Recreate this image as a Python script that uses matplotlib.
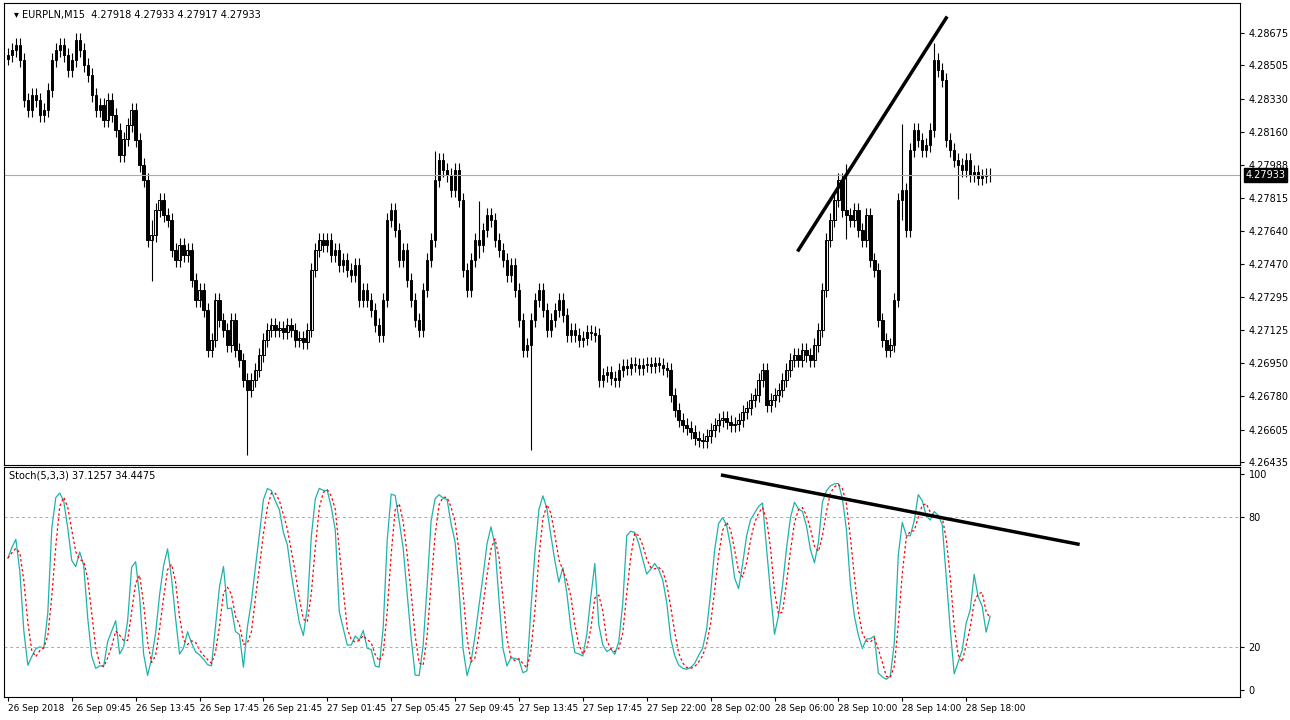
import matplotlib.pyplot as plt
import numpy as np

# closing prices for each M15 bar
closes = [
    4.28560, 4.28586, 4.28612, 4.28534, 4.28325, 4.28273, 4.28351, 4.28325, 4.28247, 4.28273,
    4.28377, 4.28534, 4.28586, 4.28612, 4.28560, 4.28482, 4.28534, 4.28638, 4.28586, 4.28508,
    4.28456, 4.28351, 4.28273, 4.28299, 4.28221, 4.28325, 4.28247, 4.28169, 4.28038, 4.28121,
    4.28195, 4.28273, 4.28116, 4.27986, 4.27908, 4.27595, 4.27620, 4.27751, 4.27803, 4.27725,
    4.27699, 4.27542, 4.27490, 4.27568, 4.27516, 4.27542, 4.27386, 4.27281, 4.27333, 4.27229,
    4.27020, 4.27073, 4.27281, 4.27177, 4.27125, 4.27047, 4.27177, 4.27020, 4.26968, 4.26863,
    4.26811, 4.26863, 4.26915, 4.26994, 4.27073, 4.27125, 4.27151, 4.27125, 4.27135, 4.27114,
    4.27151, 4.27125, 4.27073, 4.27083, 4.27062, 4.27125, 4.27438, 4.27542, 4.27595, 4.27568,
    4.27595, 4.27516, 4.27542, 4.27464, 4.27490, 4.27438, 4.27412, 4.27464, 4.27281, 4.27333,
    4.27281, 4.27229, 4.27151, 4.27099, 4.27281, 4.27699, 4.27751, 4.27647, 4.27490, 4.27542,
    4.27386, 4.27281, 4.27177, 4.27125, 4.27333, 4.27490, 4.27595, 4.27908, 4.28012, 4.27960,
    4.27934, 4.27856, 4.27960, 4.27803, 4.27438, 4.27333, 4.27490, 4.27595, 4.27568, 4.27647,
    4.27725, 4.27699, 4.27595, 4.27542, 4.27490, 4.27412, 4.27464, 4.27333, 4.27177, 4.27020,
    4.27047, 4.27177, 4.27281, 4.27333, 4.27229, 4.27125, 4.27177, 4.27229, 4.27281, 4.27203,
    4.27099, 4.27125, 4.27099, 4.27073, 4.27083, 4.27114, 4.27109, 4.27099, 4.26863, 4.26889,
    4.26904, 4.26873, 4.26863, 4.26915, 4.26936, 4.26925, 4.26946, 4.26941, 4.26925, 4.26941,
    4.26946, 4.26936, 4.26951, 4.26941, 4.26925, 4.26915, 4.26785, 4.26707, 4.26654, 4.26628,
    4.26613, 4.26592, 4.26561, 4.26550, 4.26545, 4.26571, 4.26602, 4.26628, 4.26654, 4.26665,
    4.26644, 4.26628, 4.26634, 4.26654, 4.26696, 4.26717, 4.26759, 4.26785, 4.26863, 4.26915,
    4.26733, 4.26759, 4.26785, 4.26811, 4.26863, 4.26915, 4.26968, 4.26994, 4.26968, 4.27020,
    4.26994, 4.26968, 4.27047, 4.27125, 4.27333, 4.27595, 4.27699, 4.27803, 4.27908, 4.27751,
    4.27725, 4.27699, 4.27751, 4.27647, 4.27595, 4.27725, 4.27490, 4.27438, 4.27177, 4.27073,
    4.27020, 4.27047, 4.27281, 4.27803, 4.27856, 4.27647, 4.28064, 4.28169, 4.28116, 4.28064,
    4.28090, 4.28169, 4.28534, 4.28482, 4.28430, 4.28116, 4.28064, 4.28012, 4.27986, 4.27960,
    4.28012, 4.27934, 4.27950, 4.27918, 4.27929, 4.27934, 4.27933,
]
first_open = 4.28540
wick = 0.00035
# a few long shadows visible on the chart: bar -> (high, low)
spikes = {60: (4.26900, 4.26470), 131: (4.27200, 4.26500), 232: (4.28620, 4.28300),
          107: (4.28060, 4.27800), 36: (4.27700, 4.27380), 118: (4.27800, 4.27500),
          210: (4.27990, 4.27600), 224: (4.28200, 4.27700), 238: (4.28050, 4.27810)}

price_ticks = [4.28675, 4.28505, 4.28330, 4.28160, 4.27988, 4.27815, 4.27640,
               4.27470, 4.27295, 4.27125, 4.26950, 4.26780, 4.26605, 4.26435]
time_labels = ["26 Sep 2018", "26 Sep 09:45", "26 Sep 13:45", "26 Sep 17:45",
               "26 Sep 21:45", "27 Sep 01:45", "27 Sep 05:45", "27 Sep 09:45",
               "27 Sep 13:45", "27 Sep 17:45", "27 Sep 22:00", "28 Sep 02:00",
               "28 Sep 06:00", "28 Sep 10:00", "28 Sep 14:00", "28 Sep 18:00"]
bid = 4.27933

c = np.array(closes)
o = np.concatenate([[first_open], c[:-1]])
h = np.maximum(o, c) + wick
l = np.minimum(o, c) - wick
for i, (hi, lo) in spikes.items():
    h[i] = max(h[i], hi)
    l[i] = min(l[i], lo)
n = len(c)
x = np.arange(n)

# stochastic 5,3,3
k_raw_num = np.array([c[i] - l[max(0, i - 4):i + 1].min() for i in range(n)])
k_raw_den = np.array([h[max(0, i - 4):i + 1].max() - l[max(0, i - 4):i + 1].min() for i in range(n)])
K = np.array([k_raw_num[max(0, i - 2):i + 1].sum() / k_raw_den[max(0, i - 2):i + 1].sum() * 100
              for i in range(n)])
D = np.array([K[max(0, i - 2):i + 1].mean() for i in range(n)])

fig = plt.figure(figsize=(12.9, 7.2), dpi=100)
ax = fig.add_axes([0.003, 0.354, 0.958, 0.642])
ax2 = fig.add_axes([0.003, 0.032, 0.958, 0.319])

up = c >= o
ax.vlines(x, l, h, color='black', lw=0.8)
body = np.maximum(np.abs(c - o), 0.00002)
ax.bar(x[up], body[up], bottom=o[up], width=0.6, color='white', edgecolor='black', lw=0.7)
ax.bar(x[~up], body[~up], bottom=c[~up], width=0.6, color='black', edgecolor='black', lw=0.7)
ax.axhline(bid, color='#aaaaaa', lw=0.8)
ax.plot([198, 235], [4.27542, 4.28753], color='black', lw=2.5)

ylo, yhi = 4.26435 - 3 * 0.0000522, 4.28675 + 30 * 0.0000522
ax.set_ylim(ylo, yhi)
xmax = 308.5
ax.set_xlim(-1, xmax)
ax.yaxis.tick_right()
ax.set_yticks(price_ticks)
ax.set_yticklabels([f"{p:.5f}" for p in price_ticks], fontsize=7)
ax.set_xticks([])
ax.tick_params(axis='y', length=3)
ax.text(xmax + 1.5, bid, f"{bid:.5f}", fontsize=7, color='white', va='center', ha='left',
        bbox=dict(facecolor='black', edgecolor='black', pad=1.2), clip_on=False)
ax.text(0.008, 0.985, "\u25be EURPLN,M15  4.27918 4.27933 4.27917 4.27933", transform=ax.transAxes,
        fontsize=7, va='top')

ax2.plot(x, K, color='#20b2aa', lw=0.9)
ax2.plot(x, D, color='red', lw=0.9, ls=(0, (2, 2)))
for lvl in (20, 80):
    ax2.axhline(lvl, color='#aaaaaa', lw=0.7, ls=(0, (3, 3)))
ax2.plot([179, 268], [99.5, 67.6], color='black', lw=2.5)
ax2.set_ylim(-3.2, 103.2)
ax2.set_xlim(-1, xmax)
ax2.yaxis.tick_right()
ax2.set_yticks([0, 20, 80, 100])
ax2.set_yticklabels(["0", "20", "80", "100"], fontsize=7)
ax2.set_xticks(np.arange(len(time_labels)) * 16)
ax2.set_xticklabels(time_labels, fontsize=6.4, ha='left')
ax2.tick_params(axis='x', length=3, pad=2)
ax2.tick_params(axis='y', length=3)
ax2.text(0.004, 0.985, "Stoch(5,3,3) 37.1257 34.4475", transform=ax2.transAxes, fontsize=7, va='top')

fig.savefig("out.png", dpi=100)
